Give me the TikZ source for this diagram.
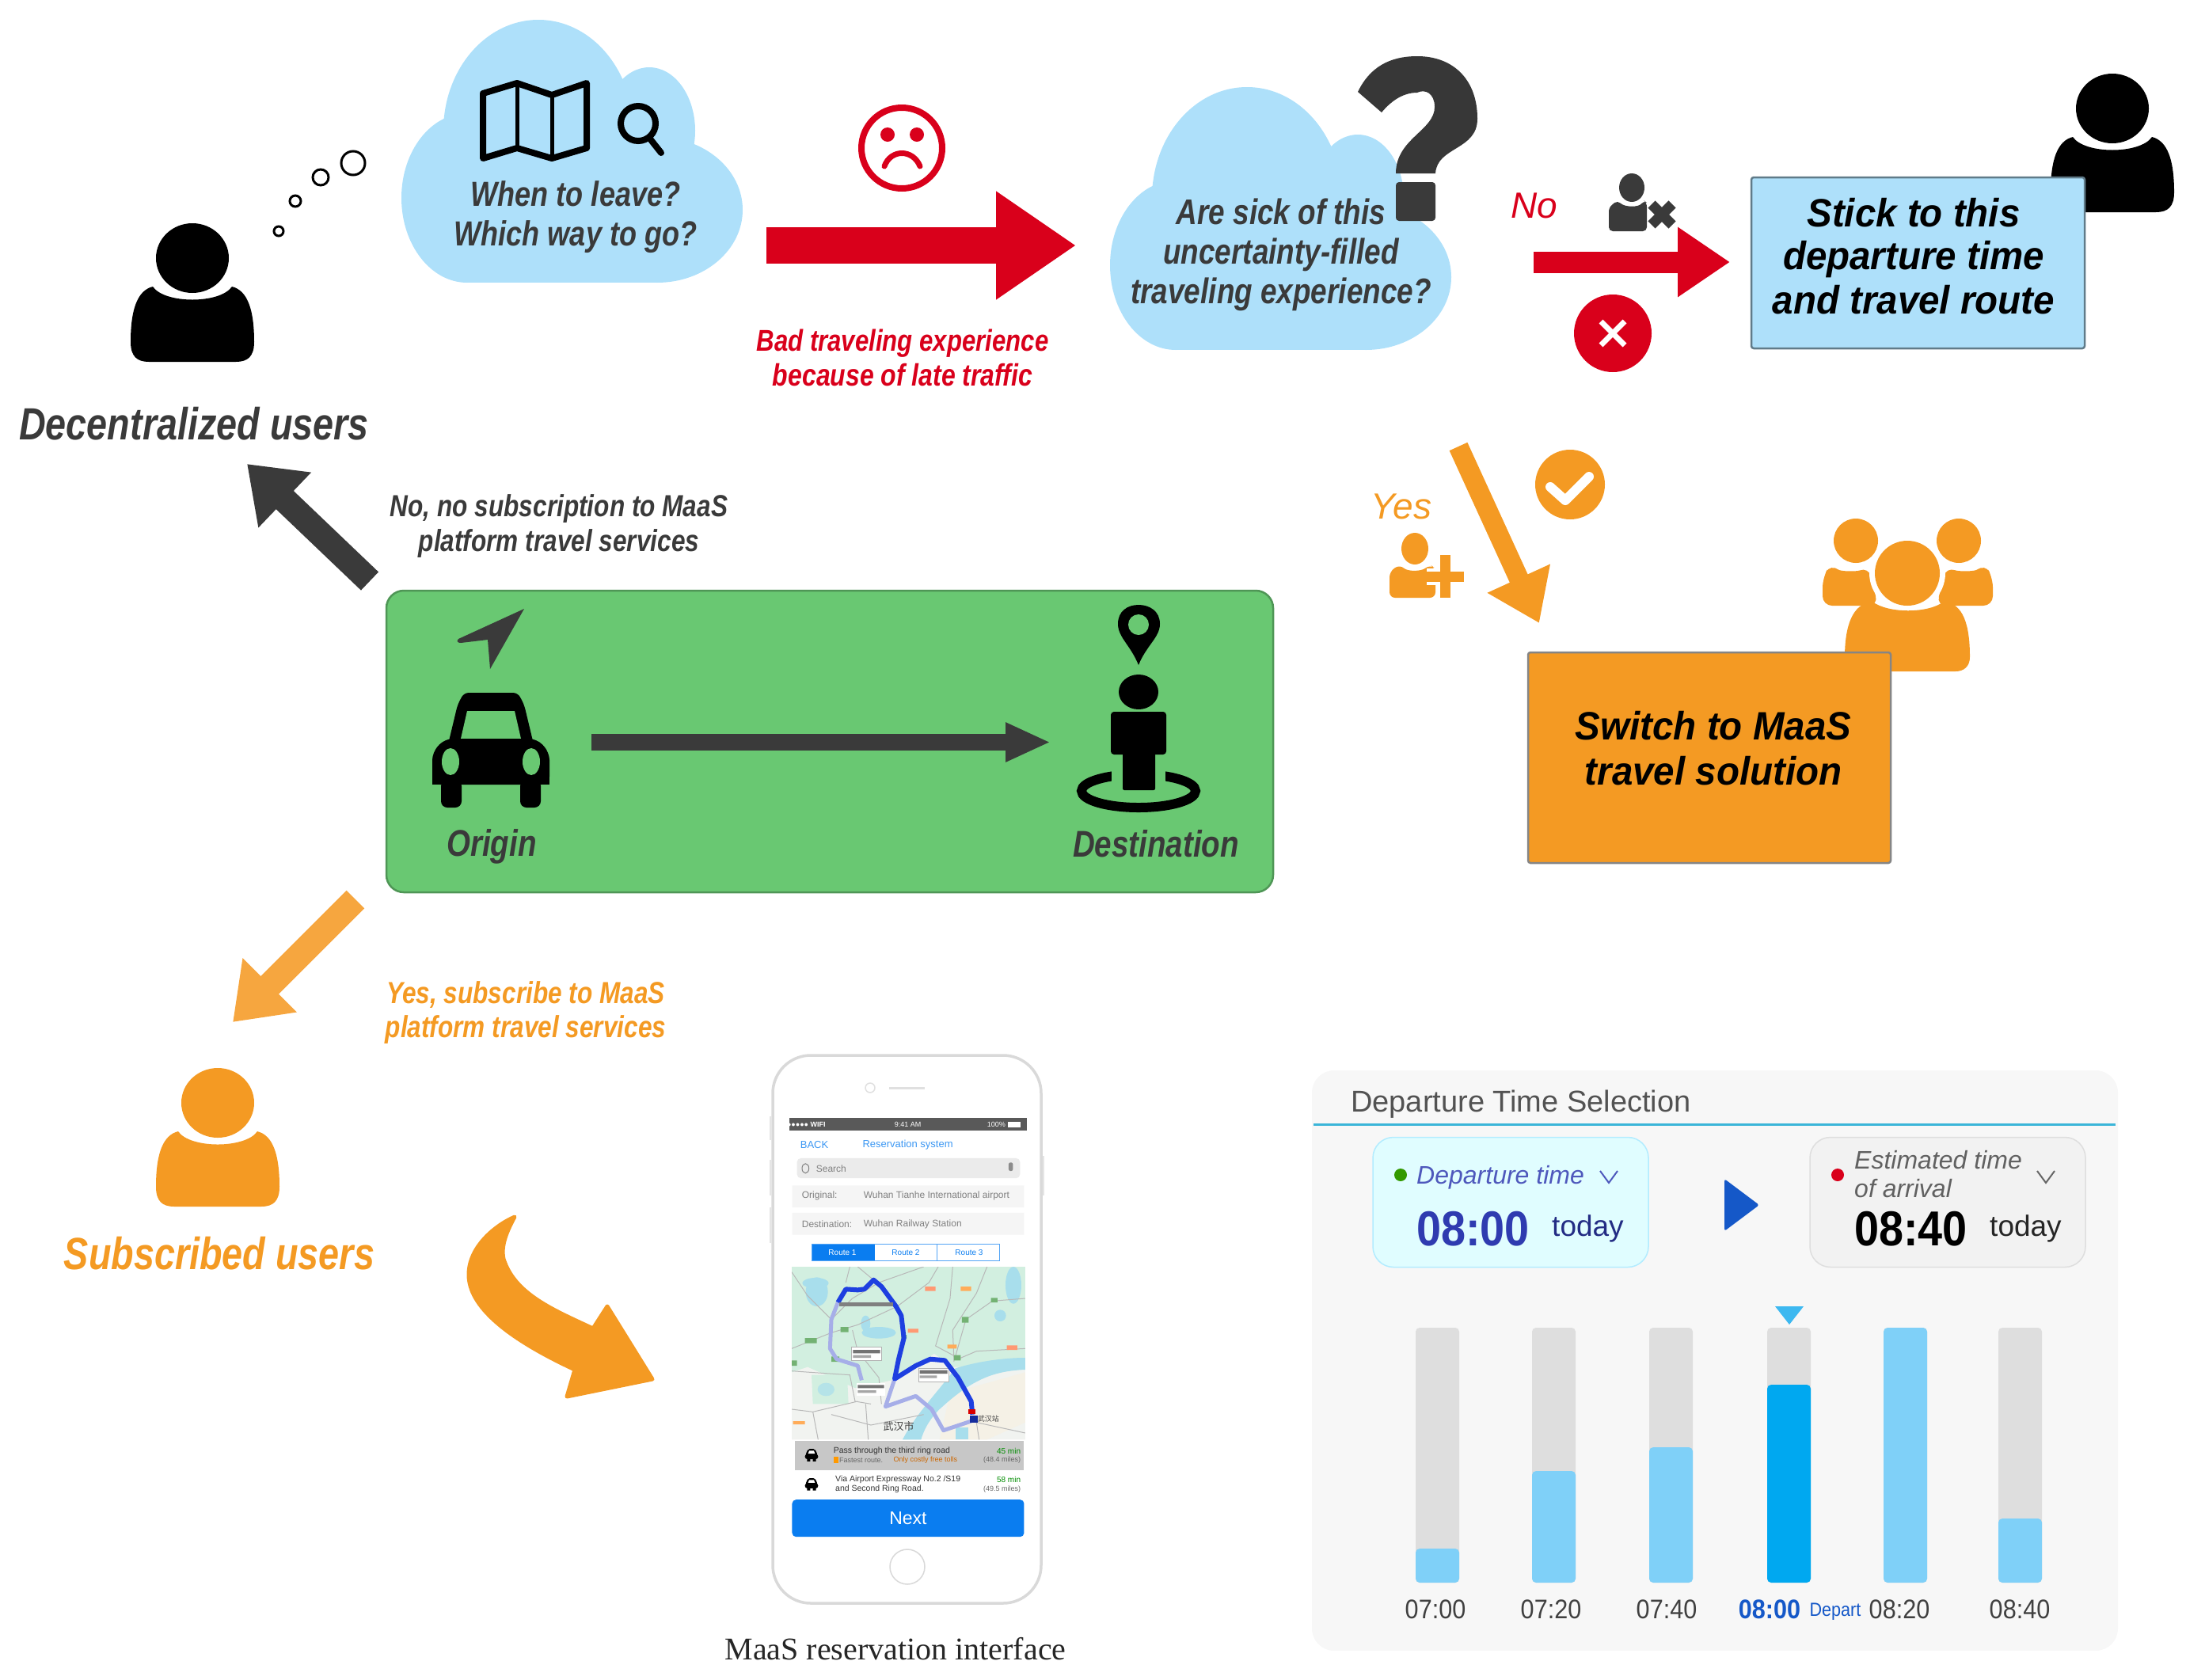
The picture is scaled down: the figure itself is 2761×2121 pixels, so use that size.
\documentclass[tikz,border=0pt]{standalone}
\usepackage{fontspec}
\setmainfont{Liberation Sans}
\newfontfamily\nbi[FakeStretch=0.82]{Liberation Sans}
\newfontfamily\wbi[FakeStretch=0.95]{Liberation Sans}
\newfontfamily\nrg[FakeStretch=0.9]{Liberation Sans}
\newfontfamily\serifcap{Liberation Serif}
\newfontfamily\cjk{Noto Sans CJK SC}
\usetikzlibrary{arrows.meta,calc}
\newcommand{\fs}[1]{\fontsize{#1}{#1}\selectfont}
\definecolor{cloudblue}{HTML}{AEE0FA}
\definecolor{redc}{HTML}{D9001B}
\definecolor{orangec}{HTML}{F49A23}
\definecolor{orangel}{HTML}{F6A63F}
\definecolor{darkc}{HTML}{3A3A3A}
\definecolor{greenc}{HTML}{69C872}
\definecolor{barblue}{HTML}{7FD0F8}
\definecolor{bardark}{HTML}{00A8F0}
\definecolor{bargray}{HTML}{DEDEDE}
\definecolor{indigoc}{HTML}{2F3BB0}
\definecolor{routeblue}{HTML}{1E3FE0}
\definecolor{routelight}{HTML}{A6AEE8}
\definecolor{phoneblue}{HTML}{0A7DF0}
\definecolor{mapgreen}{HTML}{D2EFE0}
\definecolor{mapwater}{HTML}{A8DEEC}
\definecolor{mapcity}{HTML}{F1F3F0}
\definecolor{mapcream}{HTML}{F5F1E6}
\definecolor{departblue}{HTML}{1558C8}
\tikzset{
  lbl/.style={inner sep=0pt,align=center},
  ital/.style={lbl,font=\nbi\bfseries\itshape},
  blockarrow/.style n args={4}{draw=#1,line width=#2,-{Triangle[length=#3,width=#4,fill=#1]},line cap=butt},
  bar/.style={rounded corners=5pt,fill=#1,draw=none},
  ptext/.style={lbl,anchor=west,font=\fs{12},text=#1},
}
\newcommand{\personicon}[4]{% x, top y, scale, colour
  \begin{scope}[shift={(#1,#2)},scale=#3]
    \fill[#4] (0,44) ellipse [x radius=46,y radius=44];
    \fill[#4] (-78,150) .. controls (-78,110) and (-70,85) .. (-50,80)
      .. controls (-35,102) and (35,102) .. (50,80)
      .. controls (70,85) and (78,110) .. (78,150)
      .. controls (78,168) and (70,175) .. (55,175) -- (-55,175)
      .. controls (-70,175) and (-78,168) .. (-78,150) -- cycle;
  \end{scope}}
\newcommand{\cloudshape}[2]{% dx, dy
  \begin{scope}[shift={(#1,#2)}]
    \fill[cloudblue] (680,165) ellipse [x radius=120,y radius=140];
    \fill[cloudblue] (820,165) ellipse [x radius=58,y radius=80];
    \fill[cloudblue] (830,265) ellipse [x radius=108,y radius=92];
    \fill[cloudblue] (590,250) ellipse [x radius=83,y radius=107];
    \fill[cloudblue] (590,200) rectangle (830,357);
  \end{scope}}
\newcommand{\listcar}[1]{%
  \fill[black,rounded corners=2pt] (182,#1-18) -- (208,#1-18) -- (218,#1-2) -- (172,#1-2) -- cycle;
  \fill[black,rounded corners=3pt] (170,#1-4) rectangle (220,#1+10);
  \fill[black] (178,#1+8) rectangle (190,#1+16) (200,#1+8) rectangle (212,#1+16);
  \fill[white] (186,#1-13) -- (204,#1-13) -- (208,#1-5) -- (182,#1-5) -- cycle;}
\begin{document}
\begin{tikzpicture}[x=1pt,y=-1pt]
\useasboundingbox (0,0) rectangle (2761,2121);
% ---------- top row
\personicon{243}{282}{1}{black}
\foreach \x/\y/\r in {352/292/6,373/254/7,405/224/10,446/206/15}
  \draw[line width=3pt,black] (\x,\y) circle [radius=\r];
\node[ital,font=\nbi\bfseries\itshape\fs{57},text=darkc] (decentral) at (245,535) {Decentralized users};

\cloudshape{0}{0}
% map icon
\draw[line width=8pt,line join=round] (610,118) -- (653,105) -- (697,120) -- (741,105) -- (741,187) -- (697,200) -- (653,187) -- (610,200) -- cycle;
\draw[line width=5pt] (653,105) -- (653,187) (697,120) -- (697,200);
\draw[line width=8pt] (806,156) circle [radius=22];
\draw[line width=8pt,line cap=round] (820,174) -- (835,193);
\node[ital,text=darkc,font=\nbi\bfseries\itshape\fs{44}] (q1a) at (727,245) {When to leave?};
\node[ital,text=darkc,font=\nbi\bfseries\itshape\fs{44}] (q1b) at (727,299) {Which way to go?};

% sad face
\draw[redc,line width=8pt] (1139,187) circle [radius=51];
\fill[redc] (1121,170) circle [radius=9] (1158,170) circle [radius=9];
\draw[redc,line width=7pt,line cap=round] (1117,210) .. controls (1125,188) and (1153,188) .. (1162,210);
\coordinate (ra1) at (968,310);
\coordinate (ra2) at (1359,310);
\draw[blockarrow={redc}{46pt}{101pt}{130pt}] (ra1) -- (ra2);
\node[ital,text=redc,font=\nbi\bfseries\itshape\fs{38}] (bad1) at (1140,434) {Bad traveling experience};
\node[ital,text=redc,font=\nbi\bfseries\itshape\fs{39}] (bad2) at (1140,474) {because of late traffic};

% cloud 2
\cloudshape{895}{85}
\fill[darkc!95!black] (1715,116) .. controls (1730,85) and (1755,71) .. (1790,71)
  .. controls (1835,71) and (1866,100) .. (1866,150)
  .. controls (1866,190) and (1815,185) .. (1813,219) -- (1763,219)
  .. controls (1763,175) and (1812,165) .. (1812,135)
  .. controls (1812,118) and (1800,112) .. (1790,117)
  .. controls (1770,117) and (1755,130) .. (1745,142) -- cycle;
\fill[darkc,rounded corners=4pt] (1763,230) rectangle (1813,279);
\node[ital,text=darkc,font=\nbi\bfseries\itshape\fs{45}] (q2a) at (1618,267) {Are sick of this};
\node[ital,text=darkc,font=\nbi\bfseries\itshape\fs{45}] (q2b) at (1618,322) {uncertainty-filled};
\node[ital,text=darkc,font=\nbi\bfseries\itshape\fs{45}] (q2c) at (1618,372) {traveling experience?};

% No branch
\node[lbl,font=\itshape\fs{46},text=redc] (no) at (1938,260) {No};
% person x
\fill[darkc] (2061,237) ellipse [x radius=16,y radius=18];
\fill[darkc,rounded corners=5pt] (2032,292) -- (2032,262) -- (2043,253) .. controls (2052,262) and (2070,262) .. (2076,253) -- (2080,256) -- (2080,292) -- cycle;
\draw[white,line width=20pt] (2088,260) -- (2110,282) (2110,260) -- (2088,282);
\draw[darkc,line width=13pt] (2086,258) -- (2112,284) (2112,258) -- (2086,284);
\coordinate (rb1) at (1937,331);
\coordinate (rb2) at (2185,331);
\draw[blockarrow={redc}{27pt}{66pt}{84pt}] (rb1) -- (rb2);
\fill[redc] (2037,421) circle [radius=49];
\draw[white,line width=7pt] (2022,406) -- (2052,436) (2052,406) -- (2022,436);

\personicon{2668}{93}{1}{black}
\node[lbl,rounded corners=3pt,fill=cloudblue,draw=black!45!cloudblue,line width=2.5pt,minimum width=421pt,minimum height=216pt] (stick) at (2422.5,332) {};
\node[lbl,font=\wbi\bfseries\itshape\fs{50}] (st1) at (2417,269) {Stick to this};
\node[lbl,font=\wbi\bfseries\itshape\fs{50}] (st2) at (2417,328) {departure time};
\node[lbl,font=\wbi\bfseries\itshape\fs{50}] (st3) at (2417,379) {and travel route};

% Yes branch
\coordinate (ya1) at (1842,564);
\coordinate (ya2) at (1944,787);
\draw[blockarrow={orangec}{25pt}{62pt}{83pt}] (ya1) -- (ya2);
\fill[orangec] (1983,612) circle [radius=44];
\draw[white,line width=12pt,line join=round,line cap=round] (1958,615) -- (1977,632) -- (2007,602);
\node[lbl,font=\itshape\fs{46},text=orangec] (yes) at (1770,640) {Yes};
\fill[orangec] (1787,693) ellipse [x radius=17,y radius=20];
\fill[orangec,rounded corners=7pt] (1755,755) -- (1755,722) -- (1768,713) .. controls (1778,722) and (1795,722) .. (1806,713) -- (1813,718) -- (1813,755) -- cycle;
\draw[white,line width=21pt] (1825,705) -- (1825,751) (1802,728) -- (1848,728);
\draw[orangec,line width=13pt] (1825,701) -- (1825,755) (1801,728) -- (1849,728);

% group
\fill[orangec] (2344,683) circle [radius=28] (2474,683) circle [radius=28];
\fill[orangec,rounded corners=12pt] (2302,765) -- (2302,730) -- (2312,712) .. controls (2325,722) and (2345,722) .. (2360,716) -- (2372,765) -- cycle;
\fill[orangec,rounded corners=12pt] (2517,765) -- (2517,730) -- (2507,712) .. controls (2494,722) and (2474,722) .. (2458,716) -- (2446,765) -- cycle;
\fill[white] (2409,724) circle [radius=48];
\fill[white] (2325,770) rectangle (2495,800);
\fill[orangec] (2409,724) circle [radius=41];
\fill[orangec] (2330,830) .. controls (2330,790) and (2340,762) .. (2365,760)
  .. controls (2385,775) and (2435,775) .. (2455,760)
  .. controls (2480,762) and (2488,790) .. (2488,830)
  .. controls (2488,842) and (2480,848) .. (2470,848) -- (2345,848) -- cycle;
\node[lbl,rounded corners=3pt,fill=orangec,draw=black!48,line width=2.5pt,minimum width=458pt,minimum height=266pt] (switch) at (2159,957) {};
\node[lbl,font=\wbi\bfseries\itshape\fs{50}] (sw1) at (2164,917) {Switch to MaaS};
\node[lbl,font=\wbi\bfseries\itshape\fs{50}] (sw2) at (2164,974) {travel solution};

% ---------- green box
\node[lbl,rounded corners=22pt,fill=greenc,draw=black!25!greenc,line width=2.5pt,minimum width=1120pt,minimum height=381pt] (od) at (1048,936.5) {};
\fill[darkc] (662,769) -- (579,807) .. controls (576,810) and (578,812) .. (582,812) -- (616,808) -- (619,845) -- cycle;
% car
\fill[black,rounded corners=6pt] (586,875) -- (654,875) -- (662,890) -- (674,940) -- (566,940) -- (578,890) -- cycle;
\fill[greenc] (590,898) -- (650,898) -- (658,933) -- (582,933) -- cycle;
\fill[black,rounded corners=10pt] (546,991) -- (546,950) -- (562,933) -- (678,933) -- (694,950) -- (694,991) -- cycle;
\fill[black] (546,980) rectangle (694,991);
\fill[black,rounded corners=8pt] (557,985) rectangle (583,1020) (657,985) rectangle (683,1020);
\fill[greenc] (569,962) ellipse [x radius=11,y radius=17] (671,962) ellipse [x radius=11,y radius=17];
\node[ital,text=darkc,font=\nbi\bfseries\itshape\fs{47}] (origin) at (621,1069) {Origin};
\coordinate (oa1) at (747,937.5);
\coordinate (oa2) at (1327,937.5);
\draw[blockarrow={darkc}{21pt}{57pt}{46pt}] (oa1) -- (oa2);
% pin
\fill[black] (1438,840) .. controls (1428,815) and (1412,805) .. (1412,788) .. controls (1412,772) and (1424,764) .. (1438,764)
  .. controls (1452,764) and (1465,772) .. (1465,788) .. controls (1465,805) and (1448,815) .. (1438,840) -- cycle;
\fill[greenc] (1438,789) circle [radius=13];
\fill[black] (1438,874) ellipse [x radius=25,y radius=22];
\draw[black,line width=12pt] (1438,999) ellipse [x radius=72,y radius=21];
\fill[greenc] (1404,968) rectangle (1472,990);
\fill[black,rounded corners=4pt] (1403,899) rectangle (1473,953);
\fill[black,rounded corners=2pt] (1418,945) rectangle (1459,998);
\node[ital,text=darkc,font=\nbi\bfseries\itshape\fs{47}] (dest) at (1460,1066) {Destination};

% black arrow
\coordinate (ka1) at (467,734);
\coordinate (ka2) at (312,586);
\draw[blockarrow={darkc}{32pt}{66pt}{92pt}] (ka1) -- (ka2);
\node[ital,text=darkc,font=\nbi\bfseries\itshape\fs{38.5}] (nn1) at (706,643) {No, no subscription to MaaS};
\node[ital,text=darkc,font=\nbi\bfseries\itshape\fs{38.5}] (nn2) at (706,687) {platform travel services};

% orange arrow
\coordinate (oo1) at (449,1136);
\coordinate (oo2) at (294,1291);
\draw[blockarrow={orangel}{32pt}{66pt}{92pt}] (oo1) -- (oo2);
\node[ital,text=orangec,font=\nbi\bfseries\itshape\fs{38.5}] (yy1) at (664,1257) {Yes, subscribe to MaaS};
\node[ital,text=orangec,font=\nbi\bfseries\itshape\fs{38.5}] (yy2) at (664,1301) {platform travel services};

\personicon{275}{1349}{1}{orangec}
\node[ital,text=orangec,font=\nbi\bfseries\itshape\fs{57}] (subs) at (277,1583) {Subscribed users};

% curved arrow
\filldraw[orangec,line width=5pt,line join=round] (650,1537) .. controls (625,1548) and (592,1575) .. (592,1610)
  .. controls (592,1650) and (640,1690) .. (726,1730)
  -- (716,1764) -- (824,1742) -- (767,1650) -- (749,1678)
  .. controls (700,1655) and (650,1635) .. (636,1590) .. controls (632,1572) and (642,1552) .. (650,1537) -- cycle;

% ---------- phone
\fill[white,draw=black!15,line width=3.5pt,rounded corners=48pt] (976,1333) rectangle (1315,2025);
\draw[black!10,line width=2pt] (973,1410) -- (973,1440) (973,1465) -- (973,1510) (973,1525) -- (973,1570) (1318,1460) -- (1318,1510);
\begin{scope}[shift={(960,1320)},xscale=0.3333,yscale=0.4608]
  \fill[black!65] (112,200) rectangle (1010,235);
  \node[lbl,font=\bfseries\fs{9},text=white] (st1a) at (175,217) {●●●●● WIFI};
  \node[lbl,font=\fs{9},text=white] (st1b) at (560,217) {9:41 AM};
  \node[lbl,font=\fs{9},text=white] (st1c) at (895,217) {100\%};
  \fill[white] (940,210) rectangle (988,225);
  \node[ptext=phoneblue!80,font=\fs{13}] (back) at (152,273) {BACK};
  \node[ptext=phoneblue!80,font=\fs{13}] (resv) at (388,273) {Reservation system};
  \fill[black!8,rounded corners=5pt] (140,310) rectangle (985,365);
  \draw[black!50,line width=1pt] (172,338) circle [radius=13];
  \node[ptext=black!50] (srch) at (212,340) {Search};
  \fill[black!45,rounded corners=2pt] (942,322) rectangle (958,345);
  \fill[black!4] (122,385) rectangle (1000,445) (122,460) rectangle (1000,520);
  \node[ptext=black!50] (orig) at (158,413) {Original:};
  \node[ptext=black!50] (origv) at (392,413) {Wuhan Tianhe International airport};
  \node[ptext=black!50] (des) at (158,491) {Destination:};
  \node[ptext=black!50] (desv) at (392,491) {Wuhan Railway Station};
  \fill[phoneblue] (195,545) rectangle (435,592);
  \draw[phoneblue!70,line width=1pt] (195,545) rectangle (908,592) (672,545) -- (672,592);
  \node[lbl,font=\fs{10},text=white] (r1) at (312,569) {Route 1};
  \node[lbl,font=\fs{10},text=phoneblue] (r2) at (552,569) {Route 2};
  \node[lbl,font=\fs{10},text=phoneblue] (r3) at (792,569) {Route 3};
  \fill[black!22] (132,1085) rectangle (1000,1165);
  \node[lbl,anchor=west,font=\fs{10.5},text=black!80] (rt1) at (278,1112) {Pass through the third ring road};
  \node[lbl,anchor=west,font=\fs{9},text=black!60] (rt1b) at (300,1137) {Fastest route.};
  \node[lbl,anchor=west,font=\fs{9},text=orange!80!black] (rt1c) at (505,1137) {Only costly free tolls};
  \fill[orange!80!yellow] (278,1128) rectangle (298,1146);
  \node[lbl,anchor=east,font=\fs{10},text=green!55!black] (t1) at (988,1112) {45 min};
  \node[lbl,anchor=east,font=\fs{9},text=black!60] (m1) at (988,1137) {(48.4 miles)};
  \node[lbl,anchor=west,font=\fs{10.5},text=black!80] (rt2) at (285,1191) {Via Airport Expressway No.2 /S19};
  \node[lbl,anchor=west,font=\fs{10.5},text=black!80] (rt2b) at (285,1217) {and Second Ring Road.};
  \node[lbl,anchor=east,font=\fs{10},text=green!55!black] (t2) at (988,1191) {58 min};
  \node[lbl,anchor=east,font=\fs{9},text=black!60] (m2) at (988,1217) {(49.5 miles)};
  \listcar{1125}
  \listcar{1205}
  \node[lbl,rounded corners=5pt,fill=phoneblue,minimum width=293pt,minimum height=47pt,font=\fs{23},text=white] (next) at (561,1297) {Next};
\end{scope}
% map
\begin{scope}[shift={(1000,1600)},scale=0.3333]
  \clip (0,0) rectangle (885,655);
  \fill[mapgreen] (0,0) rectangle (885,655);
  \fill[mapcity] (0,400) -- (60,380) -- (240,460) -- (380,430) -- (540,330) -- (610,380) -- (885,380) -- (885,655) -- (0,655) -- cycle;
  \fill[mapgreen] (75,410) -- (210,410) -- (215,520) -- (80,520) -- cycle;
  \fill[mapcream] (600,480) -- (885,400) -- (885,590) -- (740,655) -- (560,655) -- cycle;
  \fill[mapwater] (95,95) ellipse [x radius=42,y radius=55];
  \fill[mapwater] (90,62) ellipse [x radius=50,y radius=20];
  \fill[mapwater] (330,250) ellipse [x radius=65,y radius=22];
  \fill[mapwater] (280,215) ellipse [x radius=18,y radius=30];
  \fill[mapwater] (790,185) ellipse [x radius=22,y radius=22];
  \fill[mapwater] (840,70) ellipse [x radius=30,y radius=70];
  \fill[mapwater!70!mapgreen] (130,465) ellipse [x radius=32,y radius=25];
  \fill[mapwater] (420,655) .. controls (470,560) and (540,490) .. (620,385) .. controls (700,360) and (800,345) .. (885,345) -- (885,390)
     .. controls (760,395) and (680,430) .. (560,540) .. controls (520,580) and (500,620) .. (490,655) -- cycle;
  \fill[mapwater] (620,655) rectangle (670,610);
  \draw[black!28,line width=1pt] (0,20) -- (60,110) -- (150,200) -- (230,120) -- (330,60) -- (500,0)
     (250,0) -- (310,50) (205,60) -- (220,0)
     (0,310) -- (150,250) -- (250,220) -- (400,150) -- (520,60) -- (555,0)
     (610,0) -- (600,120) -- (545,300) -- (620,340)
     (740,0) -- (700,100) -- (610,240) -- (615,360)
     (885,120) -- (760,130) -- (660,200) -- (620,340)
     (885,310) -- (700,320) -- (630,350)
     (230,240) -- (250,320) -- (330,420) -- (340,520)
     (0,395) -- (70,400) -- (220,410) -- (240,510) -- (300,520)
     (0,540) -- (80,550) -- (100,655) (80,550) -- (250,510)
     (150,560) -- (300,600) -- (500,560)
     (280,520) -- (290,655) (700,590) -- (710,655) (700,590) -- (885,630);
  \fill[red!45!orange!55] (505,75) rectangle (545,92) (440,235) rectangle (480,250) (815,298) rectangle (855,315);
  \fill[orange!65] (640,75) rectangle (680,92) (590,295) rectangle (625,310) (5,585) rectangle (50,597);
  \fill[green!45!black!55] (755,118) rectangle (780,135) (645,190) rectangle (670,212) (50,270) rectangle (95,290) (185,228) rectangle (215,248) (150,340) rectangle (180,360) (0,355) rectangle (20,375) (415,258) rectangle (435,272) (615,335) rectangle (640,355);
  \draw[routelight,line width=5pt,line join=round] (175,135) -- (150,200) -- (145,310) -- (170,350) -- (250,375) -- (265,430);
  \draw[routelight,line width=5pt,line join=round] (390,425) -- (355,530) -- (470,490) -- (530,540) -- (575,620) -- (680,585);
  \fill[white,draw=black!30,line width=.5pt] (225,305) rectangle (340,355) (480,385) rectangle (595,435);
  \fill[white] (245,440) rectangle (355,490);
  \fill[black!55] (232,315) rectangle (335,328) (485,392) rectangle (590,405) (250,448) rectangle (350,460);
  \fill[black!35] (232,335) rectangle (300,345) (485,412) rectangle (550,422) (250,468) rectangle (320,478);
  \draw[routeblue,line width=6pt,line join=round] (175,135) -- (205,85) -- (250,88) -- (275,85) -- (310,50) -- (340,75) -- (395,150) -- (415,185) -- (425,270) -- (405,350) -- (390,425) -- (470,375) -- (525,350) -- (580,355) -- (630,420) -- (680,510) -- (685,560);
  \fill[black!50] (180,135) rectangle (385,150);
  \fill[red!85!black] (670,540) rectangle (695,558);
  \fill[routeblue!70!black] (675,565) rectangle (705,590);
  \node[lbl,font=\cjk\fs{13},text=black!75] (wuhan) at (405,605) {武汉市};
  \node[lbl,font=\cjk\fs{9},text=black!75] (stn) at (745,575) {武汉站};
\end{scope}
\draw[black!12,line width=1.5pt] (1099,1374) circle [radius=6];
\draw[black!12,line width=3pt] (1123,1374) -- (1168,1374);
\draw[black!15,line width=1.5pt] (1146,1979) circle [radius=22];
\node[lbl,font=\serifcap\fs{40},text=black!85] (cap) at (1131,2083) {MaaS reservation interface};

% ---------- departure panel
\node[lbl,rounded corners=28pt,fill=black!3,minimum width=1018pt,minimum height=733pt] (panel) at (2166,1718.5) {};
\node[lbl,anchor=west,font=\fs{38},text=black!68] (dts) at (1706,1395) {Departure Time Selection};
\coordinate (la) at (1659,1420);
\coordinate (lb) at (2672,1420);
\draw[color={rgb,255:red,59;green,181;blue,216},line width=3pt] (la) -- (lb);
\node[lbl,rounded corners=26pt,fill=blue!5!cyan!12!white,draw=blue!25!cyan!30!white,line width=1.5pt,minimum width=348pt,minimum height=164pt] (dbox) at (1908,1518.5) {};
\fill[green!50!black!80!yellow] (1769,1484) circle [radius=8];
\node[lbl,anchor=west,font=\itshape\fs{32},text=indigoc!85!white] (dt) at (1789,1487) {Departure time};
\draw[indigoc!85!white,line width=2pt] (2021,1479) -- (2032,1494) -- (2043,1479);
\node[lbl,anchor=west,font=\nrg\bfseries\fs{62},text=indigoc] (t0800) at (1789,1552) {08:00};
\node[lbl,anchor=west,font=\fs{37},text=indigoc!75!black] (td1) at (1960,1552) {today};
\fill[color=departblue,rounded corners=3pt] (2178,1489) -- (2222,1522) -- (2178,1555) -- cycle;
\node[lbl,rounded corners=26pt,fill=black!5,draw=black!13,line width=1.5pt,minimum width=348pt,minimum height=164pt] (abox) at (2460,1518.5) {};
\fill[redc] (2321,1484) circle [radius=8];
\node[lbl,anchor=west,font=\itshape\fs{32},text=black!62] (eta1) at (2342,1465) {Estimated time};
\node[lbl,anchor=west,font=\itshape\fs{32},text=black!62] (eta2) at (2342,1501) {of arrival};
\draw[black!60,line width=2pt] (2573,1479) -- (2584,1494) -- (2595,1479);
\node[lbl,anchor=west,font=\nrg\bfseries\fs{62},text=black] (t0840) at (2342,1552) {08:40};
\node[lbl,anchor=west,font=\fs{37},text=black!85] (td2) at (2513,1552) {today};
\fill[color={rgb,255:red,61;green,184;blue,240}] (2242,1650) -- (2278,1650) -- (2260,1673) -- cycle;
\foreach \x/\t/\c in {1788/1956/barblue,1935/1858/barblue,2083/1828/barblue,2232/1749/bardark,2379/1677/barblue,2524/1918/barblue}{
  \fill[bar=bargray] (\x,1677) rectangle (\x+55,1999);
  \fill[bar=\c] (\x,\t) rectangle (\x+55,1999);
}
\node[lbl,font=\nrg\fs{34},text=black!75] (l1) at (1813,2033) {07:00};
\node[lbl,font=\nrg\fs{34},text=black!75] (l2) at (1959,2033) {07:20};
\node[lbl,font=\nrg\fs{34},text=black!75] (l3) at (2105,2033) {07:40};
\node[lbl,font=\nrg\bfseries\fs{34},text=departblue] (l4) at (2235,2033) {08:00};
\node[lbl,font=\nrg\fs{24},text=departblue] (l4b) at (2318,2036) {Depart};
\node[lbl,font=\nrg\fs{34},text=black!75] (l5) at (2399,2033) {08:20};
\node[lbl,font=\nrg\fs{34},text=black!75] (l6) at (2551,2033) {08:40};
\end{tikzpicture}
\end{document}
